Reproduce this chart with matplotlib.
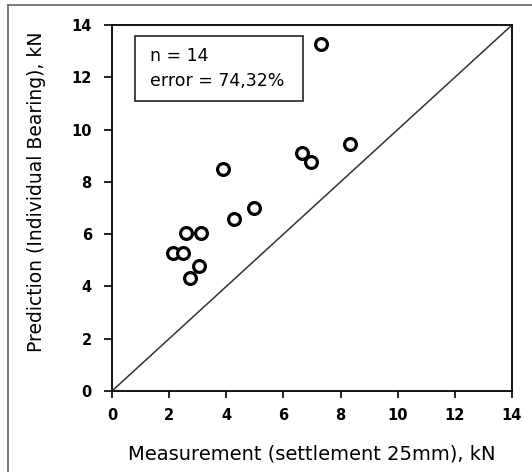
import matplotlib
matplotlib.use("Agg")
import matplotlib.pyplot as plt
from matplotlib.lines import Line2D
from matplotlib.patches import Rectangle

measured = [7.32, 3.87, 6.66, 6.95, 8.33, 4.97, 4.28, 2.59, 3.10, 2.15, 2.50, 3.05, 2.73]
predicted = [13.26, 8.49, 9.09, 8.76, 9.46, 7.01, 6.58, 6.03, 6.03, 5.29, 5.29, 4.77, 4.34]
ticks = [0, 2, 4, 6, 8, 10, 12, 14]
line_x = [0, 14]
line_y = [0, 14]

fig = plt.figure(figsize=(5.32, 4.72), dpi=100)
ax = fig.add_axes([0.2105, 0.1716, 0.7519, 0.7754])

ax.plot(line_x, line_y, color="#333333", lw=1.1)
ax.plot(measured, predicted, linestyle="none", marker="o", markersize=8.5,
        markerfacecolor="white", markeredgecolor="black", markeredgewidth=2.3)

ax.set_xlim(0, 14)
ax.set_ylim(0, 14)
ax.set_xticks(ticks)
ax.set_yticks(ticks)
ax.set_xticklabels([str(t) for t in ticks], fontsize=10.5, fontweight="bold")
ax.set_yticklabels([str(t) for t in ticks], fontsize=10.5, fontweight="bold")
ax.tick_params(axis="x", direction="out", length=5, width=1.2, pad=7)
ax.tick_params(axis="y", direction="out", length=5.5, width=1.2, pad=9)
for s in ax.spines.values():
    s.set_linewidth(1.3)

ax.set_xlabel("Measurement (settlement 25mm), kN", fontsize=14, labelpad=16)
ax.set_ylabel("Prediction (Individual Bearing), kN", fontsize=13.5)
ax.yaxis.set_label_coords(-0.165, 0.545)

ax.add_patch(Rectangle((0.0575, 0.792), 0.42, 0.178, transform=ax.transAxes,
                       facecolor="white", edgecolor="#222222", lw=1.2, zorder=3))
ax.text(0.095, 0.915, "n = 14", transform=ax.transAxes, fontsize=12.5,
        va="center", ha="left", zorder=4)
ax.text(0.095, 0.847, "error = 74,32%", transform=ax.transAxes, fontsize=12.5,
        va="center", ha="left", zorder=4)

fig.add_artist(Line2D([8/532, 8/532], [0, 1 - 5/472], transform=fig.transFigure, color="#666666", lw=1.2))
fig.add_artist(Line2D([8/532, 1], [1 - 5/472, 1 - 5/472], transform=fig.transFigure, color="#666666", lw=1.2))

fig.savefig("out.png", dpi=100)
